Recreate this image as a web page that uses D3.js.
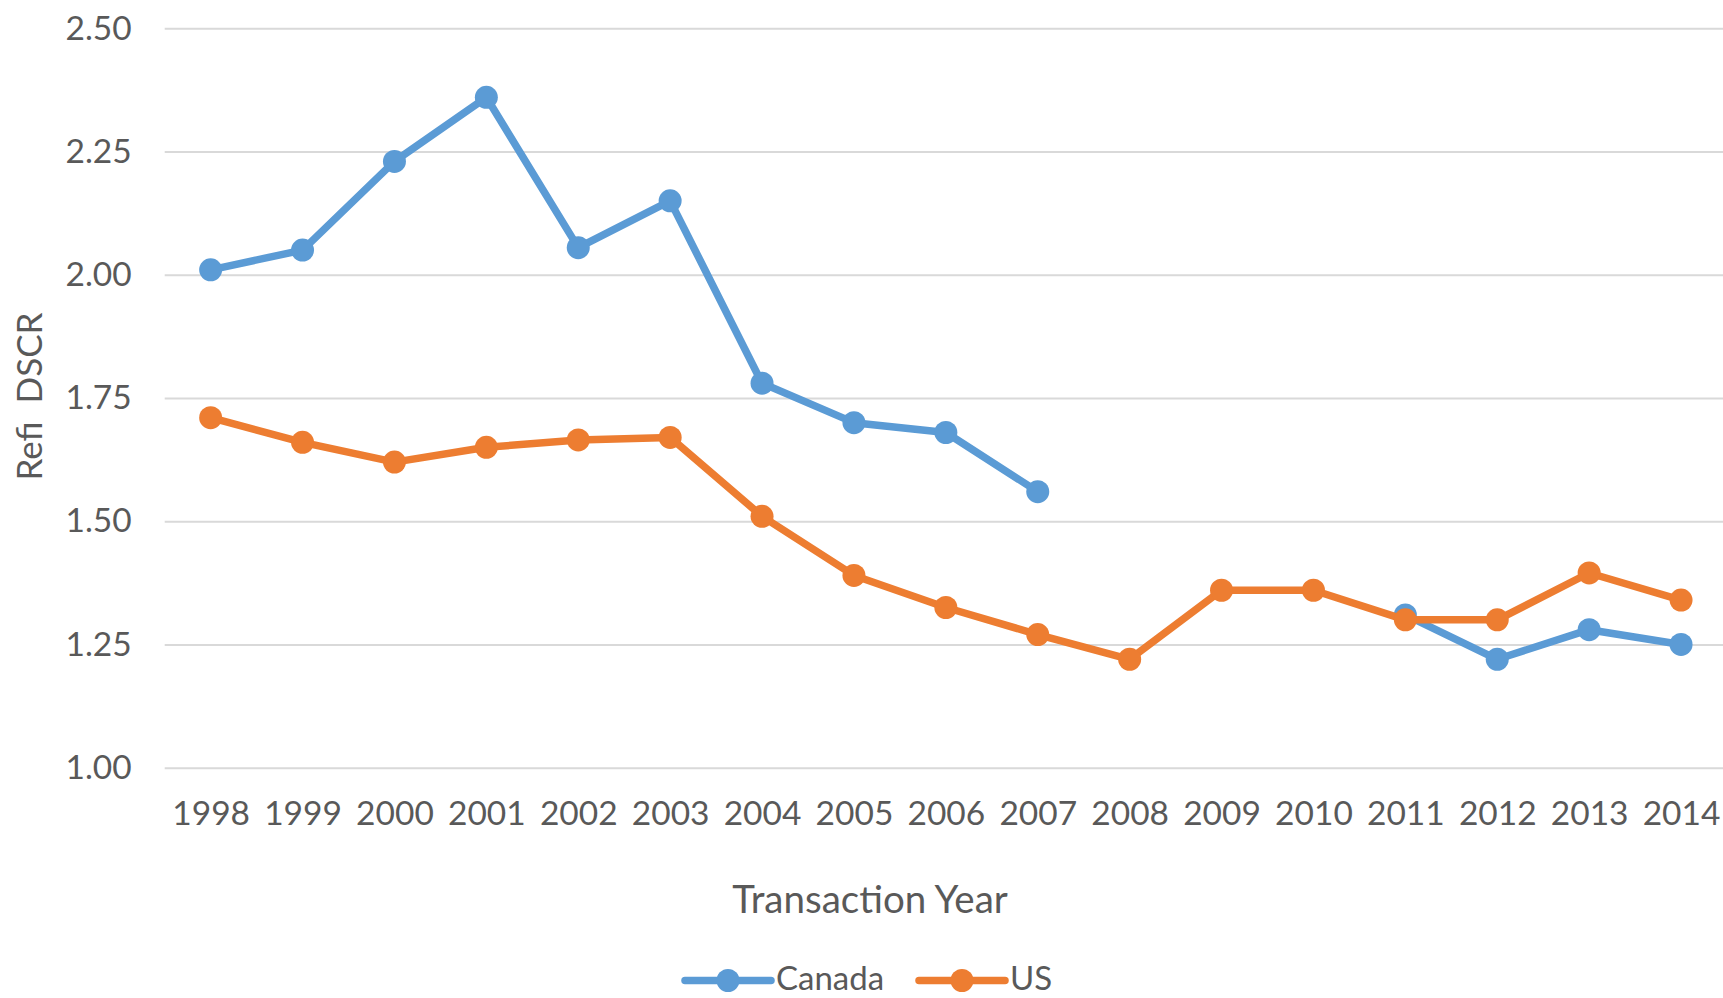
<!DOCTYPE html>
<html lang="en">
<head>
	<meta charset="UTF-8">
	<title>refi dscr by transaction year</title>
	<style>
		body { margin: 0; background: #fff; }
		text { font-family: Lato, "Open Sans", sans-serif; fill: #595959; }
	</style>
</head>
<body>

	<div id="viz-wrapper">
	</div>

	<script src="https://cdn.jsdelivr.net/npm/d3@7"></script>

	<script type="text/javascript">
    // chart data
    var years = ['1998', '1999', '2000', '2001', '2002', '2003', '2004', '2005', '2006',
                 '2007', '2008', '2009', '2010', '2011', '2012', '2013', '2014'];

    // null = no value that year (line breaks)
    var canada = [2.01, 2.05, 2.23, 2.36, 2.055, 2.15, 1.78, 1.70, 1.68,
                  1.56, null, null, null, 1.31, 1.22, 1.28, 1.25];

    var us = [1.71, 1.66, 1.62, 1.65, 1.665, 1.67, 1.51, 1.39, 1.325,
              1.27, 1.22, 1.36, 1.36, 1.30, 1.30, 1.395, 1.34];

    var yTicks = [1.00, 1.25, 1.50, 1.75, 2.00, 2.25, 2.50];

    var seriesNames = ['Canada', 'US'];
    var seriesColors = ['#5b9bd5', '#ed7d31'];

    // size of the svg
    var width = 1723,
        height = 998;

    var viz = d3.select('#viz-wrapper')
                .append('svg')
                .attr('id', 'viz')
                .attr('width', width)
                .attr('height', height);

    // plot area edges (careful: "top" is taken by window.top)
    var plotLeft = 164.7, plotRight = 1727, plotTop = 28.3, plotBottom = 767.7;

    var x = d3.scalePoint()
              .domain(years)
              .range([plotLeft, plotRight])
              .padding(0.5);

    var y = d3.scaleLinear()
              .domain([1, 2.5])
              .range([plotBottom, plotTop]);

    // horizontal gridlines + y labels
    var yAxis = d3.axisLeft(y)
                  .tickValues(yTicks)
                  .tickFormat(d3.format('.2f'))
                  .tickSize(-(plotRight - plotLeft))
                  .tickPadding(33);

    var yG = viz.append('g')
                .attr('transform', 'translate(' + plotLeft + ',0)')
                .call(yAxis);
    yG.select('.domain').remove();
    yG.selectAll('line').attr('stroke', '#d9d9d9').attr('stroke-width', 2);
    yG.selectAll('text').style('font-size', '33.5px').attr('fill', '#595959');

    // x labels, no axis line in the reference
    var xAxis = d3.axisBottom(x).tickSize(0).tickPadding(34);
    var xG = viz.append('g')
                .attr('transform', 'translate(0,' + plotBottom + ')')
                .call(xAxis);
    xG.select('.domain').remove();
    xG.selectAll('text').style('font-size', '33.5px').attr('fill', '#595959');

    // the two series
    var allSeries = [canada, us];

    var line = d3.line()
                 .defined(function(d) { return d != null; })
                 .x(function(d, i) { return x(years[i]); })
                 .y(function(d) { return y(d); });

    allSeries.forEach(function(vals, s) {
        viz.append('path')
           .datum(vals)
           .attr('d', line)
           .attr('fill', 'none')
           .attr('stroke', seriesColors[s])
           .attr('stroke-width', 7.5)
           .attr('stroke-linejoin', 'round');

        viz.append('g')
           .selectAll('circle')
           .data(vals.map(function(v, i) { return {v: v, i: i}; })
                     .filter(function(d) { return d.v != null; }))
           .enter()
           .append('circle')
           .attr('cx', function(d) { return x(years[d.i]); })
           .attr('cy', function(d) { return y(d.v); })
           .attr('r', 11.5)
           .attr('fill', seriesColors[s]);
    });

    // axis titles
    viz.append('text')
       .attr('x', 870)
       .attr('y', 912.7)
       .attr('text-anchor', 'middle')
       .style('font-size', '38.5px')
       .text('Transaction Year');

    viz.append('text')
       .attr('transform', 'translate(42,396.5) rotate(-90)')
       .attr('text-anchor', 'middle')
       .style('font-size', '35px')
       .style('white-space', 'pre')
       .text('Refi  DSCR');

    // legend at the bottom
    var legendX = [685, 919];
    var legend = viz.selectAll('.legend')
                    .data(seriesNames)
                    .enter()
                    .append('g')
                    .attr('class', 'legend')
                    .attr('transform', function(d, i) { return 'translate(' + legendX[i] + ',980.5)'; });

    legend.append('line')
          .attr('x1', 0).attr('x2', 86)
          .attr('stroke', function(d, i) { return seriesColors[i]; })
          .attr('stroke-width', 7.5)
          .attr('stroke-linecap', 'round');

    legend.append('circle')
          .attr('cx', 43)
          .attr('r', 11.5)
          .attr('fill', function(d, i) { return seriesColors[i]; });

    legend.append('text')
          .attr('x', 91)
          .attr('y', 9)
          .style('font-size', '33px')
          .text(function(d) { return d; });
 	</script>

</body>
</html>
